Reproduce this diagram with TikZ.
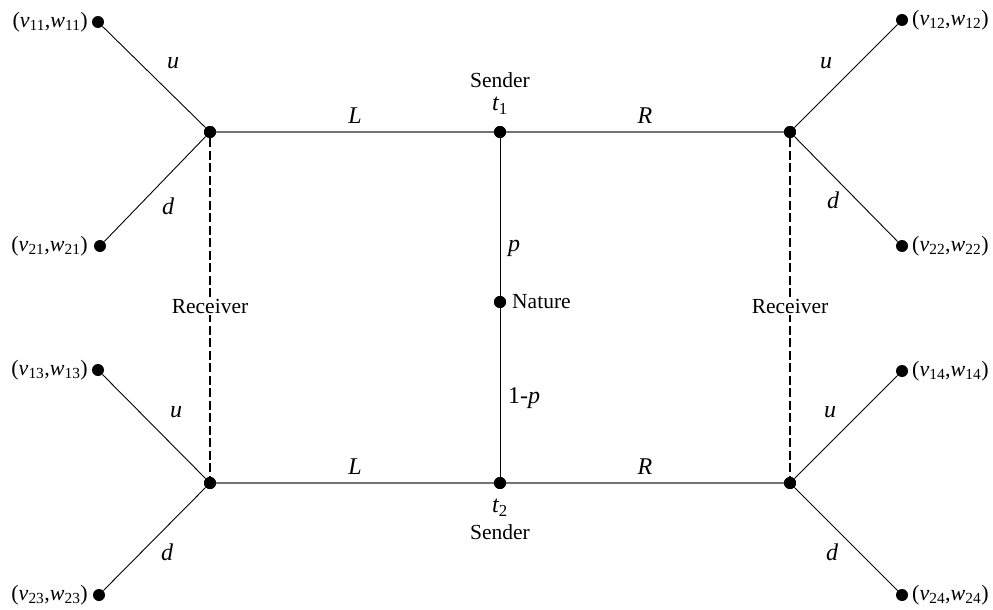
\documentclass[tikz,border=0pt]{standalone}
\usepackage{fontspec}
\setmainfont{Liberation Serif}
\begin{document}
\begin{tikzpicture}[x=1pt,y=-1pt,
  dot/.style={circle,fill=black,inner sep=0pt,minimum size=12pt},
  branch/.style={draw=black,line width=0.9pt},
  hbranch/.style={draw=black!55,line width=1.5pt},
  info/.style={draw=black,line width=2.6pt,dash pattern=on 9pt off 3.5pt},
  lab/.style={font=\fontsize{24}{28}\selectfont\itshape,inner sep=0pt},
  txt/.style={font=\fontsize{21.5}{25}\selectfont,inner sep=0pt},
  pay/.style={font=\fontsize{22}{26}\selectfont,inner sep=0pt}]
\useasboundingbox (0,0) rectangle (993,610);
% decision nodes
\node[dot] (A) at (210,132) {};
\node[dot] (T1) at (500,132) {};
\node[dot] (B) at (790,132) {};
\node[dot] (N) at (500,302) {};
\node[dot] (C) at (210,483) {};
\node[dot] (T2) at (500,483) {};
\node[dot] (D) at (790,483) {};
% leaves
\node[dot] (l11) at (98,22) {};
\node[dot] (l21) at (100,246) {};
\node[dot] (l13) at (98,370) {};
\node[dot] (l23) at (99,595) {};
\node[dot] (l12) at (902,20) {};
\node[dot] (l22) at (902,246) {};
\node[dot] (l14) at (902,371) {};
\node[dot] (l24) at (902,595) {};
% edges
\draw[hbranch] (A) -- (T1) -- (B);
\draw[hbranch] (C) -- (T2) -- (D);
\draw[branch] (T1) -- (N) -- (T2);
\draw[branch] (A) -- (l11);
\draw[branch] (A) -- (l21);
\draw[branch] (C) -- (l13);
\draw[branch] (C) -- (l23);
\draw[branch] (B) -- (l12);
\draw[branch] (B) -- (l22);
\draw[branch] (D) -- (l14);
\draw[branch] (D) -- (l24);
% information sets
\draw[info] (A) -- (C);
\draw[info] (B) -- (D);
\node[txt,fill=white,inner sep=2pt] (r1) at (210,306) {Receiver};
\node[txt,fill=white,inner sep=2pt] (r2) at (790,306) {Receiver};
% re-draw dots on top
\foreach \n in {A,B,C,D,T1,T2,N} \fill (\n) circle (6pt);
% labels
\node[lab] (uL1) at (173,63) {u};
\node[lab] (dL1) at (168,206) {d};
\node[lab] (uL2) at (176,412) {u};
\node[lab] (dL2) at (167,552) {d};
\node[lab] (uR1) at (826,63) {u};
\node[lab] (dR1) at (833,200) {d};
\node[lab] (uR2) at (830,412) {u};
\node[lab] (dR2) at (832,552) {d};
\node[lab] (L1) at (355,116) {L};
\node[lab] (R1) at (645,116) {R};
\node[lab] (L2) at (355,467) {L};
\node[lab] (R2) at (645,467) {R};
\node[lab] (p) at (514,248) {p};
\node[lab,font=\fontsize{24}{28}\selectfont] (q) at (524,398) {1-\textit{p}};
\node[txt] (s1) at (500,80) {Sender};
\node[lab] (t1) at (500,106) {t\textsubscript{\upshape 1}};
\node[lab] (t2) at (500,508) {t\textsubscript{\upshape 2}};
\node[txt] (s2) at (500,532) {Sender};
\node[txt,anchor=west] (nat) at (512,302) {Nature};
% payoffs
\node[pay,anchor=east] at ([xshift=-10pt]l11.center) {(\textit{v}\textsubscript{11},\textit{w}\textsubscript{11})};
\node[pay,anchor=east] at ([xshift=-12pt]l21.center) {(\textit{v}\textsubscript{21},\textit{w}\textsubscript{21})};
\node[pay,anchor=east] at ([xshift=-10pt]l13.center) {(\textit{v}\textsubscript{13},\textit{w}\textsubscript{13})};
\node[pay,anchor=east] at ([xshift=-11pt]l23.center) {(\textit{v}\textsubscript{23},\textit{w}\textsubscript{23})};
\node[pay,anchor=west] at ([xshift=10pt]l12.center) {(\textit{v}\textsubscript{12},\textit{w}\textsubscript{12})};
\node[pay,anchor=west] at ([xshift=10pt]l22.center) {(\textit{v}\textsubscript{22},\textit{w}\textsubscript{22})};
\node[pay,anchor=west] at ([xshift=10pt]l14.center) {(\textit{v}\textsubscript{14},\textit{w}\textsubscript{14})};
\node[pay,anchor=west] at ([xshift=10pt]l24.center) {(\textit{v}\textsubscript{24},\textit{w}\textsubscript{24})};
\end{tikzpicture}
\end{document}
